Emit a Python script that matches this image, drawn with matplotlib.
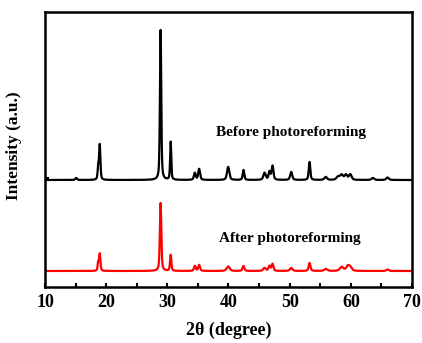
import numpy as np
import matplotlib
matplotlib.use("Agg")
import matplotlib.pyplot as plt

plt.rcParams['font.family'] = ['Liberation Serif', 'DejaVu Serif']
plt.rcParams['font.weight'] = 'bold'

# Peak lists: position (2theta), height (a.u.), FWHM (deg)
before_pos = [15.1, 18.7, 18.95, 28.9, 30.55, 34.5, 35.2, 39.95, 42.45, 45.9, 46.7, 47.2,
              50.25, 53.25, 55.9, 57.9, 58.5, 59.2, 59.9, 63.6, 66.0]
before_h = [2, 12, 35, 150, 38, 7, 11, 13, 10, 7, 8, 14, 8, 18, 3, 3, 5, 5, 5.5, 2, 2.5]
before_w = [0.35, 0.22, 0.25, 0.25, 0.22, 0.35, 0.35, 0.45, 0.3, 0.45, 0.35, 0.35, 0.4, 0.3,
            0.5, 0.6, 0.6, 0.5, 0.5, 0.5, 0.5]

after_pos = [18.7, 18.95, 28.9, 30.55, 34.5, 35.2, 39.95, 42.45, 45.9, 46.7, 47.2, 50.25,
             53.25, 55.9, 58.5, 59.5, 59.9, 66.0]
after_h = [8, 17, 68, 16, 5, 6, 4.5, 5, 3, 5, 7, 3, 8, 2, 4, 4.5, 3.5, 1.5]
after_w = [0.22, 0.25, 0.28, 0.25, 0.35, 0.35, 0.6, 0.35, 0.5, 0.35, 0.35, 0.5, 0.35, 0.6, 0.7,
           0.6, 0.6, 0.5]

before_offset = 107
after_offset = 16

x_ticks = [10, 20, 30, 40, 50, 60, 70]


def profile(x, pos, h, w):
    y = np.zeros_like(x)
    for p, a, f in zip(pos, h, w):
        g = np.exp(-4 * np.log(2) * (x - p) ** 2 / f ** 2)
        l = 1.0 / (1 + 4 * (x - p) ** 2 / f ** 2)
        y += a * (0.5 * g + 0.5 * l)
    return y


x = np.linspace(10, 70, 6000)
fig = plt.figure(figsize=(4.22, 3.43), dpi=100)
ax = fig.add_axes([0.1066, 0.1633, 0.8697, 0.8017])
ax.plot(x, before_offset + profile(x, before_pos, before_h, before_w), color='black', lw=1.6)
ax.plot(x, after_offset + profile(x, after_pos, after_h, after_w), color='red', lw=1.6)

ax.set_xlim(10, 70)
ax.set_ylim(0, 275)
ax.set_xticks(x_ticks)
ax.set_xticks(np.arange(15, 70, 10), minor=True)
ax.set_yticks([before_offset + 2])
ax.set_yticklabels([])
ax.tick_params(direction='in', length=3, width=1.5, which='both', labelsize=13, pad=5)
for s in ax.spines.values():
    s.set_linewidth(1.8)
for lab in ax.get_xticklabels():
    lab.set_fontweight('bold')

ax.text(50.2, 154, 'Before photoreforming', ha='center', va='center', fontsize=11, fontweight='bold')
ax.text(50.0, 48, 'After photoreforming', ha='center', va='center', fontsize=11, fontweight='bold')

ax.set_xlabel('2θ (degree)', fontsize=13, fontweight='bold', labelpad=8)
ax.set_ylabel('Intensity (a.u.)', fontsize=12.5, fontweight='bold')
ax.yaxis.set_label_coords(-0.063, 0.515)

fig.savefig('out.png', dpi=100)
